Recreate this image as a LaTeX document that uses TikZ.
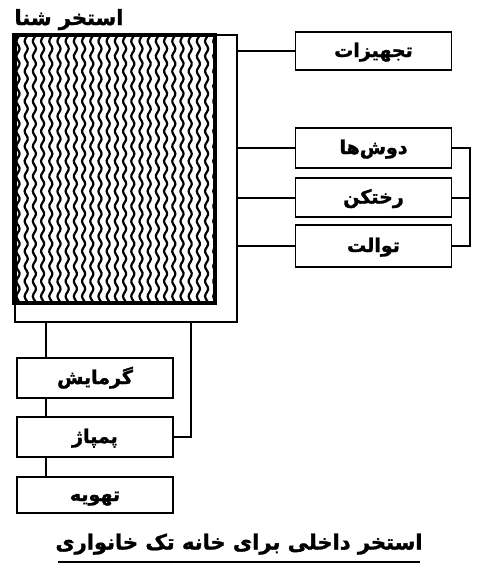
\documentclass[tikz,border=0pt]{standalone}
\usepackage{fontspec}
\TeXXeTstate=1
\newfontfamily\persianfont[Script=Arabic, BoldFeatures={FakeBold=1.5}]{DejaVu Sans}
\tikzset{
  unitbox/.style={draw, line width=1.8pt, minimum width=156pt, inner sep=0pt,
    text height=14pt, text depth=2pt,
    font=\persianfont\bfseries\fontsize{19}{22}\selectfont},
  pipe/.style={line width=2pt}
}
\newcommand{\rtl}[1]{\beginR #1\endR}
\begin{document}
\begin{tikzpicture}[x=1pt, y=-1pt]
\useasboundingbox (0,0) rectangle (480,574);

% Pool frame and title
\node (frame) [draw, line width=1.8pt, minimum width=222pt, minimum height=287pt, inner sep=0pt] at (126,178.5) {};
\node (title) [text height=14pt, text depth=2pt] at (69,19) {\persianfont\bfseries\fontsize{21}{24}\selectfont\rtl{استخر شنا}};

% Water of the pool
\begin{scope}
  \clip (15,35) rectangle (215,303);
  \foreach \i in {0,...,24}
    \draw [line width=2.2pt] plot [domain=30:308, samples=120, smooth] ({18+\i*8.2+1.6*sin(\x*24)}, \x);
\end{scope}
\node (pool) [draw, line width=3.4pt, minimum width=200pt, minimum height=268pt, inner sep=0pt] at (115,169) {};
\draw [line width=3pt] (pool.north west) -- (pool.south west);

% Units on the right
\node (tajhizat) [unitbox, minimum height=38pt] at (373.5,51) {\rtl{تجهیزات}};
\node (doush) [unitbox, minimum height=40pt] at (373.5,148) {\rtl{دوش‌ها}};
\node (rakhtkan) [unitbox, minimum height=39pt] at (373.5,197.5) {\rtl{رختکن}};
\node (tuvalet) [unitbox, minimum height=42pt] at (373.5,246) {\rtl{توالت}};

% Units below
\node (garmayesh) [unitbox, minimum height=40pt] at (95,378) {\rtl{گرمایش}};
\node (pampaj) [unitbox, minimum height=40pt] at (95,437) {\rtl{پمپاژ}};
\node (tahvieh) [unitbox, minimum height=36pt] at (95,495) {\rtl{تهویه}};

% Drawing pipes from the frame to the right units
\foreach \u in {tajhizat,doush,rakhtkan,tuvalet}
  \draw [pipe] (\u.west) -- (\u.west -| frame.east);

% Drawing bracket on the right
\coordinate (bracket) at ([xshift=18pt]doush.east);
\draw [pipe] (doush.east) -- (bracket) |- (tuvalet.east);
\draw [pipe] (rakhtkan.east) -- (rakhtkan.east -| bracket);

% Drawing pipes below the frame
\draw [pipe] ([xshift=30pt]garmayesh.north west) -- ([xshift=30pt]garmayesh.north west |- frame.south);
\draw [pipe] ([xshift=30pt]garmayesh.south west) -- ([xshift=30pt]pampaj.north west);
\draw [pipe] ([xshift=30pt]pampaj.south west) -- ([xshift=30pt]tahvieh.north west);
\draw [pipe] (pampaj.east) -| ([xshift=-47pt]frame.south east);

% Caption
\node (caption) [inner sep=0pt, text height=15pt, text depth=2pt] at (239,543) {\persianfont\bfseries\fontsize{21}{24}\selectfont\rtl{استخر داخلی برای خانه تک خانواری}};
\draw [line width=2.6pt] (58,562) -- (420,562);
\end{tikzpicture}
\end{document}
